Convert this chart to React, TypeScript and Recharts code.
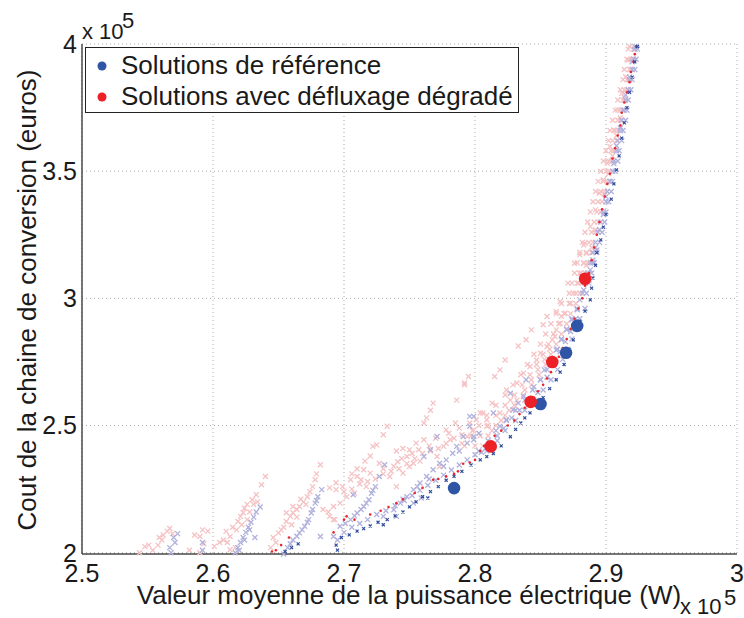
import React from "react";
import { ScatterChart, Scatter, XAxis, YAxis, CartesianGrid } from "recharts";

type Pt = [number, number];

const xTicks = [2.5, 2.6, 2.7, 2.8, 2.9, 3];
const yTicks = [2, 2.5, 3, 3.5, 4];

// population, degraded flux-weakening case (light pink crosses)
const degradedCloud: Pt[] = [
  [2.544, 2.0], [2.548, 2.024], [2.551, 2.03], [2.554, 2.01], [2.558, 2.03], [2.561, 2.05], [2.562, 2.07],
  [2.565, 2.084], [2.567, 2.095], [2.569, 2.075], [2.559, 2.06], [2.582, 2.01], [2.586, 2.07], [2.59, 2.064],
  [2.592, 2.09], [2.59, 2.0], [2.596, 2.085], [2.593, 2.035],
  [2.601, 2.025], [2.605, 2.04], [2.608, 2.05], [2.61, 2.084], [2.613, 2.064], [2.615, 2.1], [2.619, 2.123],
  [2.621, 2.143], [2.623, 2.157], [2.626, 2.13], [2.63, 2.208], [2.631, 2.19], [2.626, 2.19], [2.633, 2.228],
  [2.637, 2.267], [2.64, 2.3], [2.613, 2.012], [2.617, 2.02], [2.624, 2.175], [2.628, 2.16], [2.618, 2.09],
  [2.611, 2.04], [2.622, 2.11], [2.634, 2.2],
  [2.644, 2.02], [2.646, 2.06], [2.65, 2.078], [2.654, 2.1], [2.656, 2.123], [2.659, 2.143], [2.661, 2.157],
  [2.664, 2.17], [2.666, 2.182], [2.669, 2.2], [2.672, 2.22], [2.674, 2.24], [2.676, 2.26], [2.678, 2.287],
  [2.679, 2.31], [2.682, 2.346], [2.656, 2.157], [2.661, 2.182], [2.648, 2.04], [2.652, 2.09], [2.667, 2.21],
  [2.671, 2.19], [2.684, 2.17], [2.688, 2.16], [2.692, 2.13], [2.694, 2.275], [2.689, 2.255], [2.66, 2.11],
  [2.664, 2.14],
  [2.692, 2.182], [2.694, 2.248], [2.699, 2.26], [2.705, 2.287], [2.71, 2.3], [2.713, 2.287], [2.715, 2.326],
  [2.72, 2.313], [2.722, 2.418], [2.725, 2.424], [2.727, 2.352], [2.73, 2.464], [2.733, 2.497], [2.735, 2.3],
  [2.74, 2.26], [2.741, 2.358], [2.745, 2.313], [2.748, 2.378], [2.75, 2.339], [2.753, 2.352], [2.757, 2.405],
  [2.761, 2.444], [2.761, 2.51], [2.763, 2.53], [2.766, 2.56], [2.768, 2.588], [2.771, 2.378], [2.773, 2.339],
  [2.776, 2.418], [2.781, 2.444], [2.786, 2.6], [2.79, 2.464], [2.792, 2.667], [2.796, 2.51], [2.801, 2.523],
  [2.806, 2.549], [2.809, 2.497], [2.697, 2.195], [2.702, 2.22], [2.708, 2.234], [2.717, 2.26], [2.689, 2.143],
  [2.693, 2.13], [2.75, 2.405], [2.755, 2.431], [2.778, 2.483], [2.785, 2.51], [2.794, 2.457], [2.73, 2.33],
  [2.738, 2.34], [2.744, 2.37], [2.752, 2.39], [2.758, 2.36], [2.765, 2.42], [2.77, 2.45], [2.78, 2.47],
  [2.788, 2.49], [2.798, 2.48],
  [2.7, 2.24], [2.706, 2.25], [2.712, 2.27], [2.718, 2.28], [2.724, 2.29], [2.73, 2.31], [2.736, 2.32],
  [2.742, 2.33], [2.748, 2.35], [2.754, 2.37], [2.76, 2.39], [2.766, 2.4], [2.772, 2.41], [2.778, 2.43],
  [2.784, 2.45], [2.79, 2.43], [2.716, 2.36], [2.71, 2.33], [2.706, 2.31], [2.74, 2.4], [2.745, 2.41],
  [2.72, 2.38],
  [2.795, 2.693], [2.792, 2.66], [2.815, 2.693], [2.819, 2.719], [2.823, 2.758], [2.833, 2.813], [2.839, 2.837],
  [2.843, 2.876], [2.852, 2.896], [2.855, 2.929], [2.862, 2.948], [2.865, 2.987], [2.871, 3.06], [2.876, 3.138],
  [2.883, 3.21], [2.813, 2.588], [2.824, 2.64], [2.832, 2.667], [2.837, 2.706], [2.842, 2.732], [2.847, 2.758],
  [2.85, 2.784], [2.855, 2.81], [2.859, 2.837], [2.862, 2.876], [2.865, 2.902], [2.869, 2.942], [2.873, 2.981],
  [2.875, 3.02], [2.878, 3.06], [2.88, 3.099], [2.883, 3.138], [2.885, 3.177], [2.804, 2.549], [2.809, 2.523],
  [2.819, 2.549], [2.827, 2.6], [2.799, 2.483], [2.813, 2.48], [2.82, 2.52], [2.826, 2.56], [2.832, 2.6],
  [2.838, 2.64], [2.843, 2.68], [2.848, 2.72], [2.853, 2.76], [2.857, 2.8], [2.861, 2.85], [2.866, 2.93],
  [2.792, 2.42], [2.8, 2.42], [2.806, 2.42], [2.797, 2.46], [2.804, 2.46], [2.81, 2.46],
  [2.803, 2.5], [2.81, 2.5], [2.816, 2.5], [2.809, 2.54], [2.816, 2.54], [2.823, 2.54],
  [2.816, 2.58], [2.823, 2.58], [2.83, 2.58], [2.823, 2.62], [2.83, 2.62], [2.837, 2.62],
  [2.829, 2.66], [2.836, 2.66], [2.843, 2.66], [2.835, 2.7], [2.842, 2.7], [2.849, 2.7],
  [2.84, 2.74], [2.847, 2.74], [2.854, 2.74], [2.845, 2.78], [2.852, 2.78], [2.858, 2.78],
  [2.85, 2.82], [2.856, 2.82], [2.862, 2.82], [2.854, 2.86], [2.86, 2.86], [2.866, 2.86],
  [2.858, 2.9], [2.864, 2.9], [2.87, 2.9], [2.862, 2.94], [2.868, 2.94], [2.873, 2.94],
  [2.866, 2.98], [2.872, 2.98], [2.877, 2.98],
  [2.88, 3.171], [2.884, 3.217], [2.888, 3.282], [2.892, 3.348], [2.895, 3.413], [2.898, 3.466], [2.901, 3.531],
  [2.903, 3.597], [2.906, 3.662], [2.909, 3.741], [2.912, 3.806], [2.915, 3.871], [2.917, 3.937], [2.918, 3.99],
  [2.885, 3.13], [2.889, 3.2], [2.892, 3.27], [2.896, 3.34], [2.899, 3.41], [2.902, 3.49], [2.905, 3.56],
  [2.908, 3.64], [2.911, 3.71], [2.914, 3.79], [2.917, 3.86], [2.92, 3.94],
  [2.872, 3.02], [2.877, 3.02], [2.88, 3.02], [2.874, 3.06], [2.879, 3.06], [2.882, 3.06],
  [2.876, 3.1], [2.881, 3.1], [2.884, 3.1], [2.878, 3.14], [2.883, 3.14], [2.886, 3.14],
  [2.88, 3.18], [2.885, 3.18], [2.889, 3.18], [2.882, 3.22], [2.887, 3.22], [2.89, 3.22],
  [2.884, 3.26], [2.889, 3.26], [2.892, 3.26], [2.886, 3.3], [2.891, 3.3], [2.894, 3.3],
  [2.888, 3.34], [2.893, 3.34], [2.896, 3.34], [2.89, 3.38], [2.894, 3.38], [2.897, 3.38],
  [2.892, 3.42], [2.896, 3.42], [2.899, 3.42], [2.894, 3.46], [2.898, 3.46], [2.901, 3.46],
  [2.896, 3.5], [2.9, 3.5], [2.902, 3.5], [2.898, 3.54], [2.902, 3.54], [2.904, 3.54],
  [2.9, 3.58], [2.904, 3.58], [2.906, 3.58], [2.902, 3.62], [2.905, 3.62], [2.908, 3.62],
  [2.903, 3.66], [2.907, 3.66], [2.909, 3.66], [2.905, 3.7], [2.909, 3.7], [2.911, 3.7],
  [2.907, 3.74], [2.911, 3.74], [2.913, 3.74], [2.909, 3.78], [2.913, 3.78], [2.914, 3.78],
  [2.911, 3.82], [2.914, 3.82], [2.916, 3.82], [2.913, 3.86], [2.916, 3.86], [2.918, 3.86],
  [2.914, 3.9], [2.918, 3.9], [2.919, 3.9], [2.916, 3.94], [2.919, 3.94], [2.921, 3.94],
  [2.917, 3.98], [2.921, 3.98], [2.922, 3.98],
];

// population, reference case (light blue crosses)
const referenceCloud: Pt[] = [
  [2.567, 2.02], [2.571, 2.04], [2.57, 2.06], [2.573, 2.075], [2.568, 2.0], [2.592, 2.04], [2.592, 2.01],
  [2.617, 2.0], [2.619, 2.02], [2.621, 2.04], [2.623, 2.06], [2.625, 2.08], [2.627, 2.1], [2.629, 2.12],
  [2.631, 2.14], [2.633, 2.16], [2.636, 2.18], [2.632, 2.06], [2.62, 2.01], [2.624, 2.05], [2.628, 2.09],
  [2.654, 1.995], [2.657, 2.02], [2.661, 2.05], [2.666, 2.078], [2.67, 2.104], [2.673, 2.13], [2.675, 2.156],
  [2.678, 2.195], [2.68, 2.22], [2.683, 2.248], [2.682, 2.064], [2.695, 2.05], [2.659, 2.035], [2.664, 2.065],
  [2.668, 2.09], [2.672, 2.12], [2.676, 2.17], [2.679, 2.205],
  [2.697, 2.104], [2.705, 2.13], [2.71, 2.156], [2.715, 2.182], [2.719, 2.208], [2.721, 2.234], [2.724, 2.26],
  [2.707, 2.228], [2.727, 2.3], [2.692, 2.064], [2.701, 2.115], [2.708, 2.145], [2.713, 2.17], [2.717, 2.195],
  [2.722, 2.245],
  [2.738, 2.169], [2.743, 2.195], [2.748, 2.22], [2.753, 2.248], [2.758, 2.274], [2.763, 2.3], [2.768, 2.326],
  [2.773, 2.352], [2.778, 2.365], [2.783, 2.391], [2.786, 2.418], [2.794, 2.431], [2.799, 2.457], [2.803, 2.47],
  [2.771, 2.457], [2.766, 2.405], [2.761, 2.378], [2.731, 2.346], [2.799, 2.536], [2.796, 2.497], [2.791, 2.457],
  [2.74, 2.143], [2.753, 2.195], [2.759, 2.215], [2.73, 2.143], [2.745, 2.21], [2.756, 2.26], [2.765, 2.29],
  [2.776, 2.34], [2.788, 2.4],
  [2.7, 2.08], [2.706, 2.1], [2.712, 2.115], [2.718, 2.13], [2.725, 2.15], [2.732, 2.165], [2.739, 2.185],
  [2.746, 2.205], [2.752, 2.225], [2.758, 2.245], [2.764, 2.265], [2.77, 2.285], [2.776, 2.305], [2.782, 2.325],
  [2.788, 2.345], [2.794, 2.365], [2.8, 2.385], [2.805, 2.395],
  [2.799, 2.444], [2.819, 2.497], [2.824, 2.523], [2.829, 2.562], [2.833, 2.588], [2.837, 2.614], [2.845, 2.653],
  [2.85, 2.68], [2.853, 2.719], [2.857, 2.758], [2.862, 2.797], [2.866, 2.837], [2.87, 2.876], [2.874, 2.916],
  [2.878, 2.955], [2.88, 2.994], [2.883, 3.033], [2.885, 3.073], [2.888, 3.112], [2.89, 3.151], [2.893, 3.19],
  [2.796, 2.536], [2.814, 2.549], [2.827, 2.627], [2.839, 2.68], [2.808, 2.41], [2.812, 2.43], [2.817, 2.46],
  [2.822, 2.49], [2.828, 2.53], [2.834, 2.56], [2.84, 2.6], [2.848, 2.63], [2.855, 2.69], [2.86, 2.74],
  [2.865, 2.79], [2.869, 2.83], [2.873, 2.87], [2.877, 2.92],
  [2.803, 2.4], [2.809, 2.4], [2.81, 2.44], [2.817, 2.44], [2.816, 2.48], [2.823, 2.48], [2.824, 2.52],
  [2.831, 2.52], [2.831, 2.56], [2.838, 2.56], [2.838, 2.6], [2.845, 2.6], [2.844, 2.64], [2.852, 2.64],
  [2.85, 2.68], [2.858, 2.68], [2.855, 2.72], [2.863, 2.72], [2.859, 2.76], [2.867, 2.76], [2.863, 2.8],
  [2.871, 2.8], [2.866, 2.84], [2.874, 2.84], [2.87, 2.88], [2.877, 2.88], [2.874, 2.92], [2.88, 2.92],
  [2.878, 2.96], [2.884, 2.96],
  [2.892, 3.2], [2.895, 3.27], [2.898, 3.33], [2.9, 3.4], [2.903, 3.46], [2.906, 3.53], [2.908, 3.6],
  [2.911, 3.67], [2.913, 3.74], [2.915, 3.8], [2.918, 3.87], [2.92, 3.93], [2.922, 3.99], [2.89, 3.14],
  [2.887, 3.07],
  [2.882, 3.02], [2.885, 3.02], [2.884, 3.06], [2.887, 3.06], [2.886, 3.1], [2.889, 3.1], [2.888, 3.14],
  [2.891, 3.14], [2.89, 3.18], [2.893, 3.18], [2.892, 3.22], [2.895, 3.22], [2.894, 3.26], [2.897, 3.26],
  [2.896, 3.3], [2.899, 3.3], [2.898, 3.34], [2.9, 3.34], [2.9, 3.38], [2.902, 3.38], [2.901, 3.42],
  [2.904, 3.42], [2.903, 3.46], [2.905, 3.46], [2.905, 3.5], [2.907, 3.5], [2.906, 3.54], [2.909, 3.54],
  [2.908, 3.58], [2.91, 3.58], [2.909, 3.62], [2.912, 3.62], [2.911, 3.66], [2.913, 3.66], [2.912, 3.7],
  [2.915, 3.7], [2.914, 3.74], [2.916, 3.74], [2.915, 3.78], [2.917, 3.78], [2.917, 3.82], [2.919, 3.82],
  [2.918, 3.86], [2.92, 3.86], [2.92, 3.9], [2.922, 3.9], [2.921, 3.94], [2.923, 3.94], [2.922, 3.98],
  [2.924, 3.98],
];

// non-dominated points, degraded case (small red dots)
const degradedFront: Pt[] = [
  [2.648, 2.01], [2.652, 2.03], [2.658, 2.06], [2.645, 2.005], [2.692, 2.08], [2.7, 2.13], [2.702, 2.143],
  [2.72, 2.15], [2.734, 2.18], [2.745, 2.21], [2.754, 2.235], [2.768, 2.287], [2.778, 2.3], [2.787, 2.32],
  [2.791, 2.35], [2.8, 2.365], [2.804, 2.4], [2.81, 2.435], [2.82, 2.48], [2.83, 2.52], [2.838, 2.57],
  [2.845, 2.61], [2.852, 2.66], [2.858, 2.71], [2.864, 2.77], [2.87, 2.84], [2.876, 2.92], [2.882, 3.0],
  [2.887, 3.1], [2.891, 3.2], [2.895, 3.3], [2.899, 3.4], [2.903, 3.49], [2.907, 3.59], [2.911, 3.68],
  [2.914, 3.77], [2.918, 3.85], [2.921, 3.93], [2.923, 3.99],
  [2.708, 2.13], [2.728, 2.165], [2.74, 2.195], [2.76, 2.255], [2.772, 2.29], [2.784, 2.31], [2.796, 2.355],
  [2.807, 2.42], [2.815, 2.46], [2.825, 2.5], [2.834, 2.545], [2.841, 2.59], [2.848, 2.635], [2.855, 2.685],
  [2.861, 2.74], [2.867, 2.805], [2.873, 2.88], [2.879, 2.96], [2.884, 3.05], [2.889, 3.15], [2.893, 3.25],
  [2.897, 3.35], [2.901, 3.45], [2.905, 3.55], [2.909, 3.64], [2.912, 3.73], [2.916, 3.81], [2.919, 3.89],
  [2.922, 3.96],
];

// non-dominated points, reference case (small dark blue marks)
const referenceFront: Pt[] = [
  [2.655, 2.005], [2.66, 2.02], [2.665, 2.035], [2.694, 2.03], [2.698, 2.06], [2.71, 2.085], [2.72, 2.105],
  [2.733, 2.13], [2.745, 2.16], [2.755, 2.2], [2.766, 2.24], [2.778, 2.285], [2.79, 2.32], [2.804, 2.365],
  [2.814, 2.39], [2.827, 2.456], [2.835, 2.51], [2.842, 2.55], [2.847, 2.58], [2.857, 2.645], [2.862, 2.68],
  [2.868, 2.74], [2.875, 2.837], [2.88, 2.91], [2.888, 2.994], [2.89, 3.08], [2.893, 3.18], [2.898, 3.28],
  [2.904, 3.39], [2.908, 3.505], [2.912, 3.63], [2.916, 3.75], [2.92, 3.87], [2.924, 3.99], [2.73, 2.11],
  [2.764, 2.215], [2.695, 2.01],
  [2.704, 2.07], [2.715, 2.095], [2.726, 2.12], [2.739, 2.145], [2.75, 2.18], [2.76, 2.22], [2.772, 2.26],
  [2.784, 2.3], [2.797, 2.345], [2.809, 2.378], [2.82, 2.42], [2.831, 2.485], [2.838, 2.53], [2.852, 2.61],
  [2.865, 2.71], [2.871, 2.79], [2.878, 2.875], [2.884, 2.95], [2.889, 3.04], [2.892, 3.13], [2.896, 3.23],
  [2.9, 3.33], [2.906, 3.45], [2.91, 3.56], [2.914, 3.69], [2.918, 3.81], [2.922, 3.93],
];

const referenceSolutions: Pt[] = [[2.784, 2.254], [2.85, 2.585], [2.8695, 2.786], [2.878, 2.892]];
const degradedSolutions: Pt[] = [[2.812, 2.418], [2.8425, 2.593], [2.859, 2.75], [2.884, 3.077]];

const FONT = "'Liberation Sans', Arial, Helvetica, sans-serif";
const toData = (pts: Pt[]) => pts.map(([x, y]) => ({ x, y }));

function Cross({ cx, cy, r, color, w }: { cx?: number; cy?: number; r: number; color: string; w: number }) {
  if (cx == null || cy == null) return null;
  return (
    <path
      d={`M${cx - r},${cy - r}L${cx + r},${cy + r}M${cx - r},${cy + r}L${cx + r},${cy - r}`}
      stroke={color}
      strokeWidth={w}
      fill="none"
    />
  );
}

function Dot({ cx, cy, r, color }: { cx?: number; cy?: number; r: number; color: string }) {
  if (cx == null || cy == null) return null;
  return <circle cx={cx} cy={cy} r={r} fill={color} />;
}

export default function App() {
  return (
    <div style={{ position: "absolute", left: 0, top: 0, width: 744, height: 618, background: "#fff" }}>
      <ScatterChart width={744} height={618} margin={{ top: 44, right: 7, left: 22, bottom: 24 }}>
        <CartesianGrid stroke="#a8a8a8" strokeDasharray="1 3" />
        <XAxis
          dataKey="x"
          type="number"
          domain={[2.5, 3]}
          ticks={xTicks}
          interval={0}
          height={40}
          tickLine={false}
          tickSize={6}
          tickMargin={4}
          tickFormatter={(v: number) => String(v)}
          axisLine={{ stroke: "#4a4a4a", strokeWidth: 1.5 }}
          tick={{ fill: "#1a1a1a", fontSize: 25, fontFamily: FONT }}
        />
        <YAxis
          dataKey="y"
          type="number"
          domain={[2, 4]}
          ticks={yTicks}
          interval={0}
          width={60}
          tickLine={false}
          tickSize={5}
          tickMargin={0}
          tickFormatter={(v: number) => String(v)}
          axisLine={{ stroke: "#4a4a4a", strokeWidth: 1.5 }}
          tick={{ fill: "#1a1a1a", fontSize: 25, fontFamily: FONT }}
        />
        <Scatter
          data={toData(degradedCloud)}
          isAnimationActive={false}
          shape={(p: any) => <Cross cx={p.cx} cy={p.cy} r={2.5} w={1.3} color="#f5c2c4" />}
        />
        <Scatter
          data={toData(referenceCloud)}
          isAnimationActive={false}
          shape={(p: any) => <Cross cx={p.cx} cy={p.cy} r={2.5} w={1.3} color="#b0b1dc" />}
        />
        <Scatter
          data={toData(degradedFront)}
          isAnimationActive={false}
          shape={(p: any) => <Dot cx={p.cx} cy={p.cy} r={1.3} color="#e8262b" />}
        />
        <Scatter
          data={toData(referenceFront)}
          isAnimationActive={false}
          shape={(p: any) => <Cross cx={p.cx} cy={p.cy} r={1.5} w={1.2} color="#2f4b9c" />}
        />
        <Scatter
          data={toData(referenceSolutions)}
          isAnimationActive={false}
          shape={(p: any) => <Dot cx={p.cx} cy={p.cy} r={6.3} color="#2e55a6" />}
        />
        <Scatter
          data={toData(degradedSolutions)}
          isAnimationActive={false}
          shape={(p: any) => <Dot cx={p.cx} cy={p.cy} r={6.3} color="#ec2027" />}
        />
      </ScatterChart>

      <svg
        width={744}
        height={618}
        style={{ position: "absolute", left: 0, top: 0, pointerEvents: "none" }}
        fontFamily={FONT}
      >
        {/* exponent labels */}
        <text x={82} y={39} fontSize={22} fill="#1a1a1a">x 10</text>
        <text x={122} y={28} fontSize={22} fill="#1a1a1a">5</text>
        <text x={680} y={614} fontSize={22} fill="#1a1a1a">x 10</text>
        <text x={724} y={605} fontSize={22} fill="#1a1a1a">5</text>

        {/* axis titles */}
        <text x={409} y={604} fontSize={26} textAnchor="middle" fill="#1a1a1a">
          Valeur moyenne de la puissance électrique (W)
        </text>
        <text x={36} y={300} fontSize={26} textAnchor="middle" fill="#1a1a1a" transform="rotate(-90 36 300)">
          Cout de la chaine de conversion (euros)
        </text>

        {/* legend */}
        <rect x={85.5} y={47.5} width={433} height={65} fill="#fff" stroke="#222" strokeWidth={1} />
        <circle cx={102} cy={66} r={4.5} fill="#2e55a6" />
        <text x={121} y={74} fontSize={26} fill="#1a1a1a">Solutions de référence</text>
        <circle cx={102} cy={97} r={4.5} fill="#ec2027" />
        <text x={121} y={105} fontSize={26} fill="#1a1a1a">Solutions avec défluxage dégradé</text>
      </svg>
    </div>
  );
}
